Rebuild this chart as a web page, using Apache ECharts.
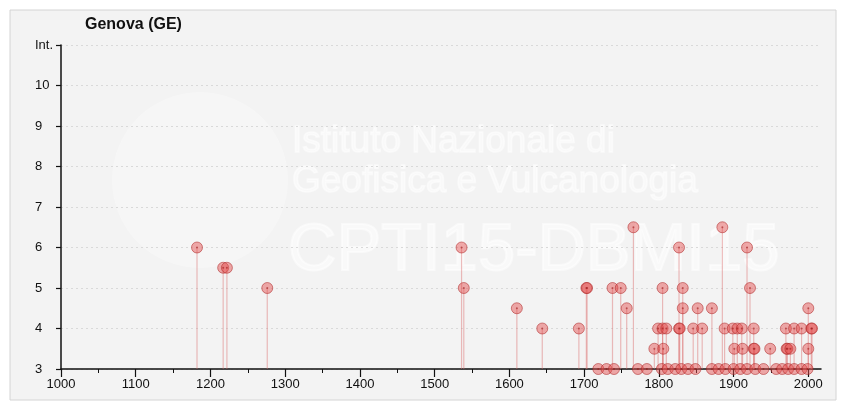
<!DOCTYPE html>
<html>
<head>
<meta charset="utf-8">
<script src="https://cdn.jsdelivr.net/npm/echarts@6/dist/echarts.min.js"></script>
<style>
html,body{margin:0;padding:0;background:#ffffff;}
#chart{width:841px;height:405px;}
</style>
</head>
<body>
<div id="chart"></div>
<script>
var titleText = 'Genova (GE)';
var xTicks = [1000, 1100, 1200, 1300, 1400, 1500, 1600, 1700, 1800, 1900, 2000];
var yTickLabels = ['3', '4', '5', '6', '7', '8', '9', '10', 'Int.'];

var years = [
  1182, 1217, 1222, 1276, 1536, 1539, 1610, 1644, 1693, 1703,
  1704, 1719, 1730, 1738, 1740, 1749, 1757, 1766, 1772, 1784,
  1794, 1799, 1804, 1805, 1805, 1806, 1810, 1812, 1822, 1827,
  1827, 1828, 1830, 1832, 1832, 1839, 1846, 1849, 1852, 1858,
  1871, 1871, 1880, 1885, 1888, 1889, 1899, 1900, 1901, 1905,
  1909, 1911, 1912, 1918, 1918, 1922, 1927, 1927, 1928, 1929,
  1940, 1949, 1957, 1965, 1970, 1971, 1972, 1973, 1976, 1981,
  1981, 1991, 1991, 1999, 2000, 2000, 2004, 2005
];
var intensities = [
  6, 5.5, 5.5, 5, 6, 5, 4.5, 4, 4, 5,
  5, 3, 3, 5, 3, 5, 4.5, 6.5, 3, 3,
  3.5, 4, 3, 5, 4, 3.5, 4, 3, 3, 6,
  4, 4, 3, 5, 4.5, 3, 4, 3, 4.5, 4,
  4.5, 3, 3, 6.5, 4, 3, 4, 3, 3.5, 4,
  3, 4, 3.5, 6, 3, 5, 4, 3.5, 3.5, 3,
  3, 3.5, 3, 3, 4, 3.5, 3.5, 3, 3.5, 4,
  3, 4, 3, 3, 4.5, 3.5, 4, 4
];

var points = years.map(function (y, i) { return [y, intensities[i]]; });

var chart = echarts.init(document.getElementById('chart'), null, {renderer: 'canvas'});
var font = 'Liberation Sans, Arial, sans-serif';
var wm = 'rgba(255,255,255,0.5)';

var option = {
  backgroundColor: '#ffffff',
  animation: false,
  title: {
    text: titleText,
    left: 80,
    top: 12,
    textStyle: {fontFamily: font, fontSize: 16, fontWeight: 'bold', color: '#111'}
  },
  graphic: [
    {type: 'rect', z: -20, silent: true, shape: {x: 10, y: 10, width: 826, height: 390},
      style: {fill: '#f3f3f3', stroke: '#d4d4d4', lineWidth: 1}},
    {type: 'circle', z: -10, silent: true, shape: {cx: 200, cy: 180, r: 88},
      style: {fill: 'rgba(255,255,255,0.3)'}},
    {type: 'text', z: -10, silent: true, x: 292, y: 123,
      style: {text: 'Istituto Nazionale di', font: '37px "Liberation Sans", Arial, sans-serif', fill: wm, stroke: wm, lineWidth: 1.5}},
    {type: 'text', z: -10, silent: true, x: 292, y: 163,
      style: {text: 'Geofisica e Vulcanologia', font: '37px "Liberation Sans", Arial, sans-serif', fill: wm, stroke: wm, lineWidth: 1.5}},
    {type: 'text', z: -10, silent: true, x: 288, y: 218,
      style: {text: 'CPTI15-DBMI15', font: '67px "Liberation Sans", Arial, sans-serif', fill: wm, stroke: wm, lineWidth: 2}}
  ],
  grid: {left: 61, right: 20, top: 45, bottom: 36, containLabel: false},
  xAxis: {
    type: 'value',
    min: 1000,
    max: 2017,
    interval: 100,
    axisLine: {show: true, onZero: false, lineStyle: {color: '#111', width: 1.5}},
    axisTick: {show: true, length: 8, lineStyle: {color: '#111', width: 1.2}, customValues: xTicks},
    minorTick: {show: true, splitNumber: 2, length: 4, lineStyle: {color: '#111', width: 1}},
    axisLabel: {customValues: xTicks, margin: 9, color: '#111', fontSize: 13, fontFamily: font,
      formatter: function (v) { return String(v); }},
    splitLine: {show: false}
  },
  yAxis: {
    type: 'value',
    min: 3,
    max: 11,
    interval: 1,
    axisLine: {show: true, onZero: false, lineStyle: {color: '#111', width: 1.5}},
    axisTick: {show: true, length: 5, lineStyle: {color: '#111', width: 1.2}},
    axisLabel: {
      align: 'left', margin: 26, color: '#111', fontSize: 13, fontFamily: font,
      formatter: function (v) { return yTickLabels[Math.round(v) - 3]; }
    },
    splitLine: {show: true, lineStyle: {color: '#d9d9d9', type: [2, 3], width: 1}}
  },
  series: [
    {
      type: 'custom',
      z: 2,
      data: points,
      renderItem: function (params, api) {
        var x = api.value(0), v = api.value(1);
        var p0 = api.coord([x, 3]);
        var p1 = api.coord([x, v]);
        return {
          type: 'line',
          shape: {x1: p0[0], y1: p0[1], x2: p1[0], y2: p1[1]},
          style: {stroke: 'rgba(220,110,110,0.45)', lineWidth: 1.2}
        };
      }
    },
    {
      type: 'scatter',
      z: 3,
      data: points,
      symbol: 'circle',
      symbolSize: 11,
      itemStyle: {color: 'rgba(228,80,80,0.6)', borderColor: 'rgba(170,35,35,0.65)', borderWidth: 1},
      emphasis: {disabled: true}
    },
    {
      type: 'scatter',
      z: 4,
      data: points,
      symbol: 'circle',
      symbolSize: 2,
      itemStyle: {color: 'rgba(150,20,20,0.7)'},
      emphasis: {disabled: true}
    }
  ]
};
chart.setOption(option);
</script>
</body>
</html>
